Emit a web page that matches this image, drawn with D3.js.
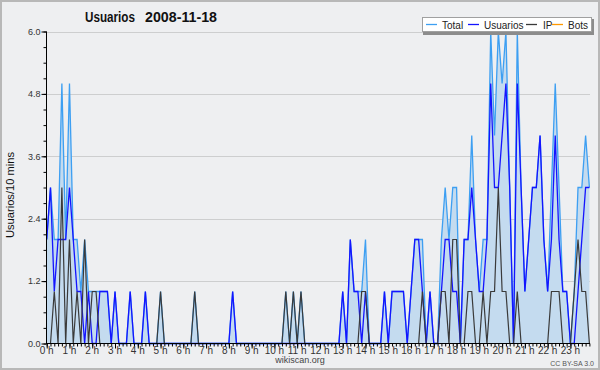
<!DOCTYPE html>
<html><head><meta charset="utf-8">
<script src="https://cdn.jsdelivr.net/npm/d3@7"></script>
<style>body{margin:0;background:#fff}svg{display:block}text{font-family:"Liberation Sans",Arial,sans-serif}</style>
</head><body><svg id="c" width="600" height="370"></svg>
<script>
// 10-minute slots, 0h00 .. 23h50
const total = [
2,3,2,2,5,2,5,2,2,1,
2,1,1,1,1,1,1,0,1,0,
0,0,1,0,0,0,1,0,0,0,
1,0,0,0,0,0,0,0,0,1,
0,0,0,0,0,0,0,0,0,1,
0,0,0,0,0,0,0,0,0,0,
0,0,0,1,0,1,0,1,0,0,
0,0,0,0,0,0,0,0,1,0,
2,1,1,1,2,0,0,0,0,1,
0,1,1,1,1,0,1,2,2,2,
0,1,0,0,2,3,2,3,3,0,
2,2,4,2,1,2,2,6,4,6,
5,6,3,0,6,3,1,2,3,3,
4,2,1,3,5,3,1,1,0,1,
3,3,4,3];
const usuarios = [
2,3,1,2,2,2,3,2,1,1,
0,1,0,0,1,1,1,0,1,0,
0,0,1,0,0,0,1,0,0,0,
0,0,0,0,0,0,0,0,0,0,
0,0,0,0,0,0,0,0,0,1,
0,0,0,0,0,0,0,0,0,0,
0,0,0,0,0,0,0,0,0,0,
0,0,0,0,0,0,0,0,1,0,
2,1,1,0,1,0,0,0,0,1,
0,1,1,1,1,0,1,2,2,1,
0,1,0,0,1,2,2,1,1,0,
2,2,3,2,1,1,2,5,3,3,
4,5,3,0,5,3,1,2,3,3,
4,2,1,2,4,2,1,1,0,0,
1,2,3,3];
const ip = [
0,0,1,0,3,0,2,0,1,0,
2,0,1,1,0,0,0,0,0,0,
0,0,0,0,0,0,0,0,0,0,
1,0,0,0,0,0,0,0,0,1,
0,0,0,0,0,0,0,0,0,0,
0,0,0,0,0,0,0,0,0,0,
0,0,0,1,0,1,0,1,0,0,
0,0,0,0,0,0,0,0,0,0,
0,0,0,1,1,0,0,0,0,0,
0,0,0,0,0,0,0,0,0,1,
0,0,0,0,1,1,0,2,2,0,
0,1,1,0,0,1,0,1,1,3,
1,1,0,0,1,0,0,0,0,0,
0,0,0,1,1,1,0,0,0,1,
2,1,1,0];
const bots = [
0,0,0,0,0,0,0,0,0,0,0,0,0,0,0,0,0,0,0,0,0,0,0,0,
0,0,0,0,0,0,0,0,0,0,0,0,0,0,0,0,0,0,0,0,0,0,0,0,
0,0,0,0,0,0,0,0,0,0,0,0,0,0,0,0,0,0,0,0,0,0,0,0,
0,0,0,0,0,0,0,0,0,0,0,0,0,0,0,0,0,0,0,0,0,0,0,0,
0,0,0,0,0,0,0,0,0,0,0,0,0,0,0,0,0,0,0,0,0,0,0,0,
0,0,0,0,0,0,0,0,0,0,0,0,0,0,0,0,0,0,0,0,0,0,0,0];
const hourLabels = ["0 h","1 h","2 h","3 h","4 h","5 h","6 h","7 h","8 h","9 h","10 h","11 h",
  "12 h","13 h","14 h","15 h","16 h","17 h","18 h","19 h","20 h","21 h","22 h","23 h"];
const yTicks = [0, 1.2, 2.4, 3.6, 4.8, 6.0];
const seriesNames = ["Total","Usuarios","IP","Bots"];
const seriesColors = ["#3d9ff2","#1414ff","#3a3a3a","#ff9900"];

const svg = d3.select("#c");
svg.append("rect").attr("x",1).attr("y",1).attr("width",598).attr("height",368)
  .attr("fill","#eeeff1").attr("stroke","#b8b8b8").attr("stroke-width",2);

const x = d3.scaleLinear().domain([0,143]).range([46.7,589.4]);
const y = d3.scaleLinear().domain([0,6]).range([343.5,31.5]);
const X0 = 46.5, X1 = 590;

// grid
svg.append("g").selectAll("line").data(yTicks.slice(1)).join("line")
  .attr("x1",X0).attr("x2",X1).attr("y1",d=>Math.round(y(d))+0.5).attr("y2",d=>Math.round(y(d))+0.5)
  .attr("stroke","#cdcecf").attr("stroke-width",1);

const idx = d3.range(total.length);
svg.append("path").datum(idx)
  .attr("d", d3.area().x(i=>x(i)).y0(y(0)).y1(i=>y(total[i])))
  .attr("fill","#c4dbef");

const series = [total, usuarios, ip, bots];
const widths = [1.3,1.3,1.2,1.2];
[3,0,1,2].forEach(k=>{
  svg.append("path").datum(idx)
    .attr("d", d3.line().x(i=>x(i)).y(i=>y(series[k][i])))
    .attr("fill","none").attr("stroke",seriesColors[k]).attr("stroke-width",widths[k])
    .attr("stroke-linejoin","miter");
});

// y axis
const minorY = d3.range(0, 6.01, 0.3);
const yMinor = svg.append("g").attr("transform",`translate(${X0},0)`)
  .call(d3.axisLeft(y).tickValues(minorY).tickSize(3).tickFormat(""));
yMinor.select(".domain").remove();
const yAx = svg.append("g").attr("transform",`translate(${X0},0)`)
  .call(d3.axisLeft(y).tickValues(yTicks).tickSize(5).tickPadding(1).tickFormat(d3.format(".1f")));
yAx.select(".domain").attr("d",`M0,${y(6)}V${y(0)+0.5}`);
yAx.selectAll("text").attr("font-size",9).attr("fill","#333").attr("font-family","Liberation Sans, Arial, sans-serif");
svg.selectAll(".tick line").attr("stroke","#000");

// x axis
const xMinor = svg.append("g").attr("transform",`translate(0,${y(0)})`)
  .call(d3.axisBottom(x).tickValues(idx).tickSize(3).tickFormat(""));
xMinor.select(".domain").remove();
const hourIdx = d3.range(0,144,6);
const xAx = svg.append("g").attr("transform",`translate(0,${y(0)})`)
  .call(d3.axisBottom(x).tickValues(hourIdx).tickSize(5).tickFormat(""));
xAx.select(".domain").attr("d",`M${X0},0H${X1}`);
svg.selectAll(".tick line").attr("stroke","#000");
svg.append("g").selectAll("text").data(hourIdx).join("text")
  .attr("x",d=>x(d)).attr("y",354).attr("text-anchor","middle")
  .attr("font-size",10).attr("fill","#333").text((d,i)=>hourLabels[i]);

// title
svg.append("text").attr("x",85).attr("y",22).attr("font-size",14).attr("font-weight","bold")
  .attr("textLength",50).attr("lengthAdjust","spacingAndGlyphs").attr("fill","#111").text("Usuarios");
svg.append("text").attr("x",145).attr("y",22).attr("font-size",14).attr("font-weight","bold")
  .attr("textLength",72).attr("lengthAdjust","spacingAndGlyphs").attr("fill","#111").text("2008-11-18");

// y title
svg.append("text").attr("transform","translate(14,195) rotate(-90)").attr("text-anchor","middle")
  .attr("font-family","DejaVu Sans Mono, monospace").attr("font-size",10).attr("fill","#111")
  .attr("textLength",86).attr("lengthAdjust","spacingAndGlyphs")
  .text("Usuarios/10 mins");

// legend
svg.append("rect").attr("x",423).attr("y",19).attr("width",171).attr("height",16).attr("fill","#8c8c8c");
svg.append("rect").attr("x",422.5).attr("y",17.5).attr("width",169).attr("height",14).attr("fill","#fff").attr("stroke","#a0a0a0");
const legX = [426, 468, 526, 552];
const legTX = [442, 484, 543, 568];
seriesNames.forEach((n,k)=>{
  svg.append("line").attr("x1",legX[k]).attr("x2",legX[k]+11).attr("y1",24.5).attr("y2",24.5)
    .attr("stroke",seriesColors[k]).attr("stroke-width",1.3);
  svg.append("text").attr("x",legTX[k]).attr("y",28.5).attr("font-size",10).attr("fill","#222").text(n);
});

// footer
svg.append("text").attr("x",300).attr("y",363).attr("text-anchor","middle").attr("font-size",9).attr("fill","#444").text("wikiscan.org");
svg.append("text").attr("x",594).attr("y",366).attr("text-anchor","end").attr("font-size",7).attr("fill","#555").text("CC BY-SA 3.0");
</script></body></html>
